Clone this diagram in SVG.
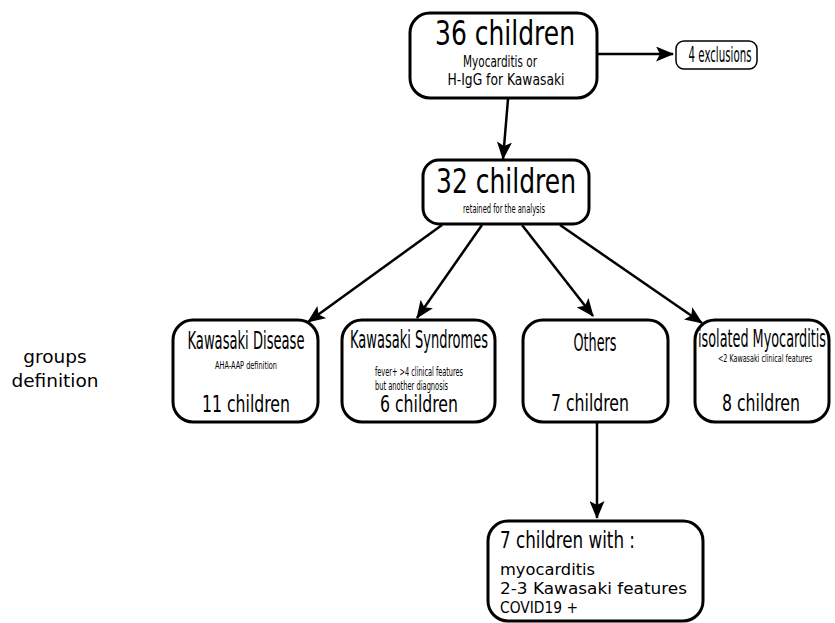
<svg xmlns="http://www.w3.org/2000/svg" width="835" height="623" viewBox="0 0 835 623">
<style>
.box{fill:#fff;stroke:#000;stroke-width:3}
.thin{fill:#fff;stroke:#000;stroke-width:1.5}
.c{font-family:"DejaVu Sans Condensed","DejaVu Sans",sans-serif;font-stretch:condensed;fill:#000}
.r{font-family:"DejaVu Sans",sans-serif;fill:#000}
.con line{stroke:#000;stroke-width:2.5;fill:none;marker-end:url(#ah)}
</style>
<defs>
<marker id="ah" markerUnits="userSpaceOnUse" markerWidth="18" markerHeight="15" refX="17" refY="7.5" orient="auto">
<path d="M0,0 L18,7.5 L0,15 L4,7.5 z" fill="#000"/>
</marker>
</defs>
<g id="connectors" class="con">
<line x1="597" y1="54" x2="673" y2="54"/>
<line x1="508" y1="99" x2="503" y2="159"/>
<line x1="442" y1="225" x2="308" y2="322"/>
<line x1="482" y1="225" x2="417" y2="318"/>
<line x1="522" y1="225" x2="593" y2="316"/>
<line x1="560" y1="225" x2="702" y2="323"/>
<line x1="597" y1="422" x2="597" y2="518"/>
</g>
<g id="n36">
<rect class="box" x="410" y="13" width="187" height="85" rx="20"/>
<text class="c" x="505" y="45" font-size="33" text-anchor="middle" textLength="140" lengthAdjust="spacingAndGlyphs">36 children</text>
<text class="c" x="500" y="67" font-size="16" text-anchor="middle" textLength="74" lengthAdjust="spacingAndGlyphs">Myocarditis or</text>
<text class="c" x="506" y="85" font-size="16" text-anchor="middle" textLength="117" lengthAdjust="spacingAndGlyphs">H-IgG for Kawasaki</text>
</g>
<g id="excl">
<rect class="thin" x="676" y="41" width="81" height="28" rx="8"/>
<text class="c" x="720" y="62" font-size="21" text-anchor="middle" textLength="63" lengthAdjust="spacingAndGlyphs">4 exclusions</text>
</g>
<g id="n32">
<rect class="box" x="423" y="160" width="166" height="64" rx="16"/>
<text class="c" x="506" y="193" font-size="33" text-anchor="middle" textLength="140" lengthAdjust="spacingAndGlyphs">32 children</text>
<text class="c" x="504" y="213" font-size="12" text-anchor="middle" textLength="82" lengthAdjust="spacingAndGlyphs">retained for the analysis</text>
</g>
<g id="kd">
<rect class="box" x="173" y="320" width="145" height="102" rx="20"/>
<text class="c" x="246" y="349" font-size="24" text-anchor="middle" textLength="117" lengthAdjust="spacingAndGlyphs">Kawasaki Disease</text>
<text class="c" x="246" y="369" font-size="11" text-anchor="middle" textLength="62" lengthAdjust="spacingAndGlyphs">AHA-AAP definition</text>
<text class="c" x="246" y="412" font-size="23" text-anchor="middle" textLength="88" lengthAdjust="spacingAndGlyphs">11 children</text>
</g>
<g id="ks">
<rect class="box" x="342" y="320" width="153" height="102" rx="20"/>
<text class="c" x="419" y="348" font-size="24" text-anchor="middle" textLength="138" lengthAdjust="spacingAndGlyphs">Kawasaki Syndromes</text>
<text class="c" x="375" y="376" font-size="11.5" textLength="88" lengthAdjust="spacingAndGlyphs">fever+ &gt;4 clinical features</text>
<text class="c" x="375" y="390" font-size="11.5" textLength="73" lengthAdjust="spacingAndGlyphs">but another diagnosis</text>
<text class="c" x="419" y="412" font-size="23" text-anchor="middle" textLength="78" lengthAdjust="spacingAndGlyphs">6 children</text>
</g>
<g id="oth">
<rect class="box" x="523" y="320" width="145" height="102" rx="20"/>
<text class="c" x="595" y="351" font-size="25" text-anchor="middle" textLength="43" lengthAdjust="spacingAndGlyphs">Others</text>
<text class="c" x="590" y="411" font-size="23" text-anchor="middle" textLength="78" lengthAdjust="spacingAndGlyphs">7 children</text>
</g>
<g id="iso">
<rect class="box" x="695" y="320" width="134" height="102" rx="20"/>
<text class="c" x="762" y="347" font-size="24" text-anchor="middle" textLength="128" lengthAdjust="spacingAndGlyphs">isolated Myocarditis</text>
<text class="c" x="765" y="362" font-size="10.5" text-anchor="middle" textLength="94" lengthAdjust="spacingAndGlyphs">&lt;2 Kawasaki clinical features</text>
<text class="c" x="761" y="411" font-size="23" text-anchor="middle" textLength="78" lengthAdjust="spacingAndGlyphs">8 children</text>
</g>
<g id="bottom">
<rect class="box" x="488" y="521" width="215" height="100" rx="20"/>
<text class="c" x="500" y="548" font-size="23" textLength="135" lengthAdjust="spacingAndGlyphs">7 children with :</text>
<text class="r" x="500" y="575" font-size="16.3">myocarditis</text>
<text class="r" x="500" y="594" font-size="16.5" textLength="187" lengthAdjust="spacingAndGlyphs">2-3 Kawasaki features</text>
<text class="r" x="500" y="613" font-size="16.5" textLength="78" lengthAdjust="spacingAndGlyphs">COVID19 +</text>
</g>
<g id="label">
<text class="r" x="55" y="363" font-size="18.5" text-anchor="middle">groups</text>
<text class="r" x="55" y="387" font-size="18.5" text-anchor="middle">definition</text>
</g>
</svg>
